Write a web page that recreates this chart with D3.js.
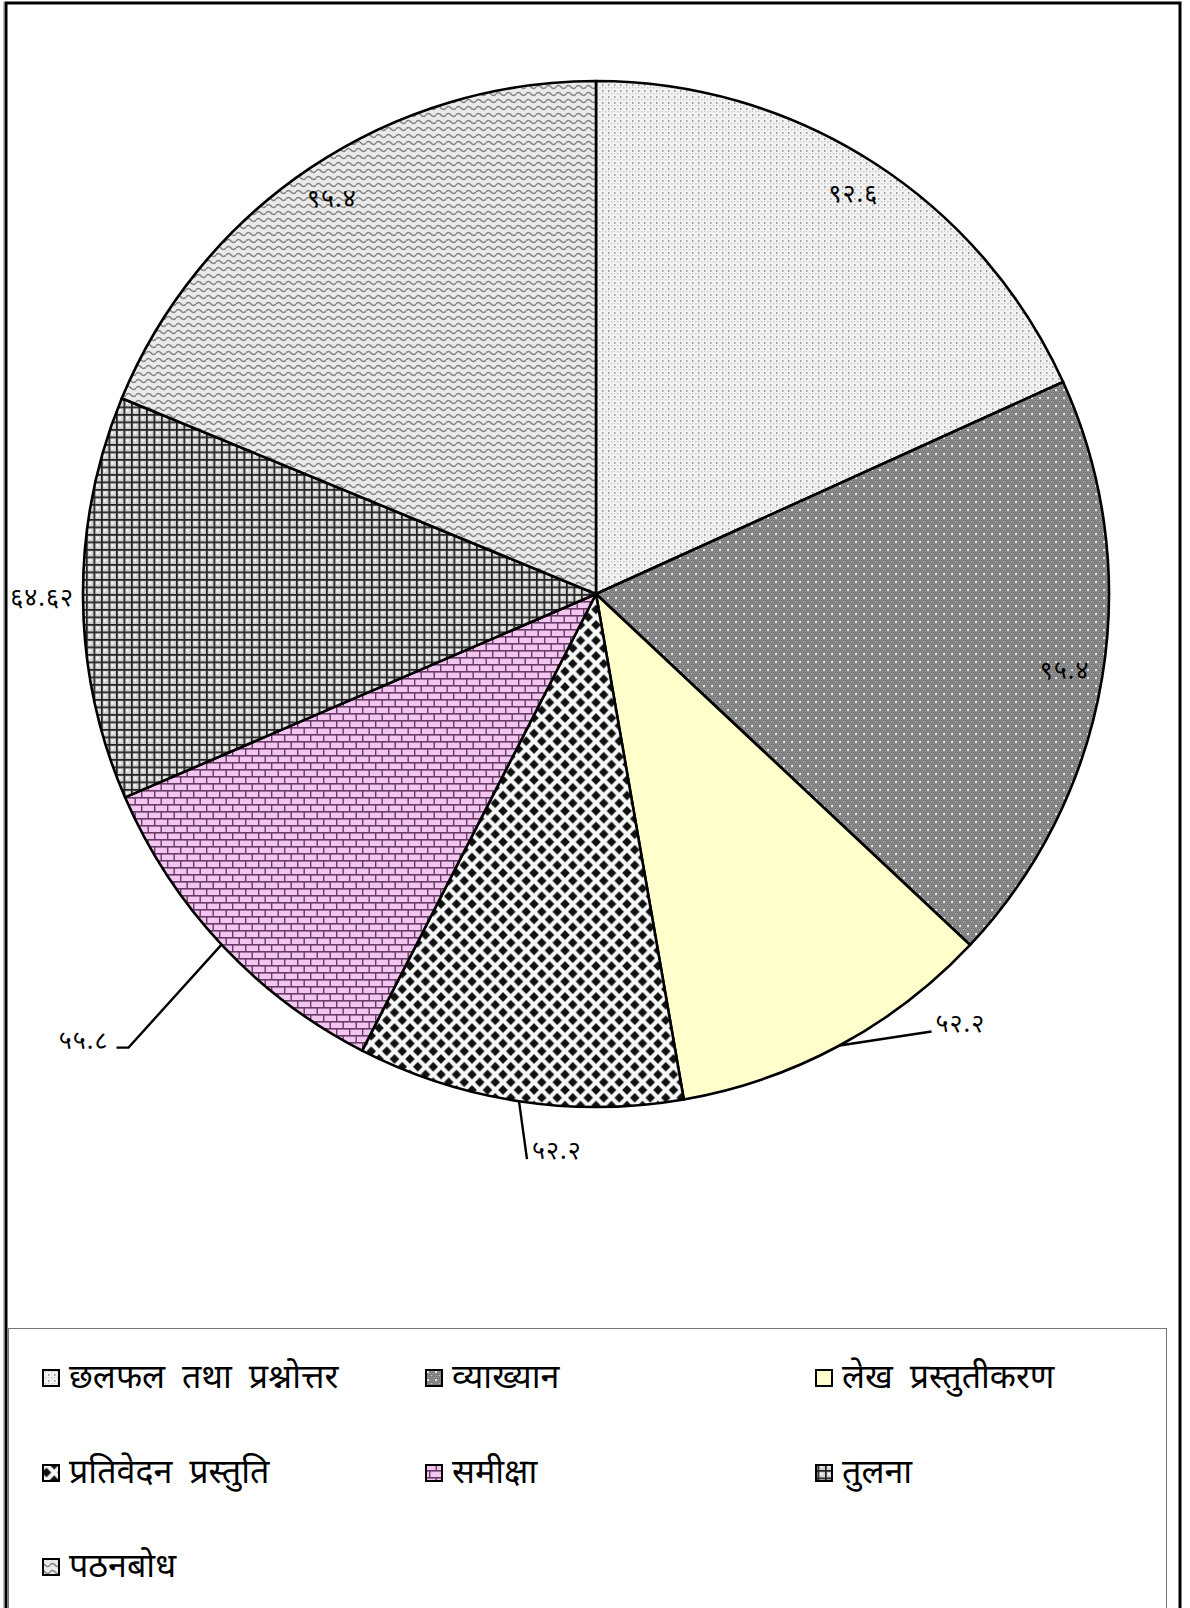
<!DOCTYPE html>
<html><head><meta charset="utf-8">
<script src="https://cdn.jsdelivr.net/npm/d3@7"></script>
<style>
html,body{margin:0;padding:0;background:#fff;}
svg{display:block;}
text{font-family:"Noto Sans Devanagari","Lohit Devanagari","Mangal","Noto Sans","FreeSans",sans-serif;}
</style></head>
<body>
<script>
// ---- data ----
const categories = ["छलफल तथा प्रश्नोत्तर","व्याख्यान","लेख प्रस्तुतीकरण","प्रतिवेदन प्रस्तुति","समीक्षा","तुलना","पठनबोध"];
const values = [92.6, 95.4, 52.2, 52.2, 55.8, 64.62, 95.4];
const valueLabels = ["९२.६","९५.४","५२.२","५२.२","५५.८","६४.६२","९५.४"];

// ---- layout / style ----
const W = 1190, H = 1608;
const cx = 596, cy = 594, R = 513;
const patternIds = ["p0","p1","p2","p3","p4","p5","p6"];
const labelLayout = [
  {mode:"in", r:475},
  {mode:"in", r:475},
  {mode:"lead", pts:[[92,-14]], tx:96, ty:-21, anchor:"start"},
  {mode:"lead", pts:[[8,58]], tx:13, ty:50, anchor:"start"},
  {mode:"lead", pts:[[-93,103],[-105,103]], tx:-113, ty:97, anchor:"end"},
  {mode:"out", r:522},
  {mode:"in", r:475}
];

const svg = d3.select("body").append("svg").attr("width",W).attr("height",H);
const defs = svg.append("defs");

(function(){
  const p = defs.append("pattern").attr("id","p0").attr("patternUnits","userSpaceOnUse").attr("width",6).attr("height",6);
  p.append("rect").attr("width",6).attr("height",6).attr("fill","#f2f2f2");
  p.append("rect").attr("x",0).attr("y",0).attr("width",1.5).attr("height",2).attr("fill","#a0a0a0");
  p.append("rect").attr("x",3).attr("y",3).attr("width",1.5).attr("height",1.5).attr("fill","#c8c8c8");
  p.append("rect").attr("x",0).attr("y",3).attr("width",1).attr("height",1).attr("fill","#c4c4c4");
})();
(function(){
  const p = defs.append("pattern").attr("id","p1").attr("patternUnits","userSpaceOnUse").attr("width",8).attr("height",8);
  p.append("rect").attr("width",8).attr("height",8).attr("fill","#8c8c8c");
  for(let i=0;i<8;i+=2) for(let j=0;j<8;j+=2){
    p.append("rect").attr("x",i+((j/2)%2)).attr("y",j).attr("width",1).attr("height",1).attr("fill","#707070");
  }
  p.append("rect").attr("x",3).attr("y",3).attr("width",2).attr("height",2).attr("fill","#e6e6e6");
  p.append("rect").attr("x",7).attr("y",7).attr("width",1).attr("height",1).attr("fill","#c4c4c4");
})();
(function(){
  const p = defs.append("pattern").attr("id","p2").attr("patternUnits","userSpaceOnUse").attr("width",4).attr("height",4);
  p.append("rect").attr("width",4).attr("height",4).attr("fill","#ffffcc");
})();
(function(){
  const s = 15.5;
  const p = defs.append("pattern").attr("id","p3").attr("patternUnits","userSpaceOnUse").attr("width",s).attr("height",s);
  p.append("rect").attr("width",s).attr("height",s).attr("fill","#f8f8f8");
  const d = 4.8;
  const dia = (x,y)=>`M${x},${y-d}L${x+d},${y}L${x},${y+d}L${x-d},${y}Z`;
  p.append("path").attr("d", dia(s/2,s/2)+dia(0,0)+dia(s,0)+dia(0,s)+dia(s,s)).attr("fill","#111");
})();
(function(){
  const w = 13, h = 14;
  const p = defs.append("pattern").attr("id","p4").attr("patternUnits","userSpaceOnUse").attr("width",w).attr("height",h);
  p.append("rect").attr("width",w).attr("height",h).attr("fill","#f3c6f0");
  p.append("rect").attr("x",0).attr("y",0).attr("width",w).attr("height",1.6).attr("fill","#6a3a68");
  p.append("rect").attr("x",0).attr("y",7).attr("width",w).attr("height",1.6).attr("fill","#6a3a68");
  p.append("rect").attr("x",0).attr("y",0).attr("width",1.4).attr("height",7).attr("fill","#6a3a68");
  p.append("rect").attr("x",6.5).attr("y",7).attr("width",1.4).attr("height",7).attr("fill","#6a3a68");
})();
(function(){
  const s = 7.5;
  const p = defs.append("pattern").attr("id","p5").attr("patternUnits","userSpaceOnUse").attr("width",s).attr("height",s);
  p.append("rect").attr("width",s).attr("height",s).attr("fill","#cfcfcf");
  p.append("rect").attr("x",2.8).attr("y",2.8).attr("width",2.4).attr("height",2.4).attr("fill","#fafafa");
  p.append("rect").attr("x",0).attr("y",0).attr("width",s).attr("height",1.7).attr("fill","#222");
  p.append("rect").attr("x",0).attr("y",0).attr("width",1.7).attr("height",s).attr("fill","#222");
})();
(function(){
  const w = 10, h = 7;
  const p = defs.append("pattern").attr("id","p6").attr("patternUnits","userSpaceOnUse").attr("width",w).attr("height",h);
  p.append("rect").attr("width",w).attr("height",h).attr("fill","#eaeaea");
  p.append("path").attr("d","M0,4 Q2.5,1 5,4 T10,4").attr("fill","none").attr("stroke","#858585").attr("stroke-width",1.7);
})();

// ---- outer frame ----
svg.append("line").attr("x1",3.5).attr("y1",2).attr("x2",3.5).attr("y2",H).attr("stroke","#bbb").attr("stroke-width",1);
svg.append("path").attr("d",`M6,${H} V3 H1180 V${H}`).attr("fill","none").attr("stroke","#000").attr("stroke-width",3);

// ---- pie ----
const pie = d3.pie().sort(null).value(d=>d.v).startAngle(0).endAngle(2*Math.PI);
const data = categories.map((c,i)=>({c, v:values[i], lab:valueLabels[i], pat:patternIds[i], lay:labelLayout[i]}));
const arcs = pie(data);
const arc = d3.arc().innerRadius(0).outerRadius(R);
const g = svg.append("g").attr("transform",`translate(${cx},${cy})`);
g.selectAll("path.slice").data(arcs).join("path").attr("class","slice")
  .attr("d",arc).attr("fill",d=>`url(#${d.data.pat})`)
  .attr("stroke","#000").attr("stroke-width",2.6).attr("stroke-linejoin","round");

const LFS = 25;
const polar = (a,r)=>[r*Math.sin(a), -r*Math.cos(a)];
arcs.forEach(d=>{
  const mid = (d.startAngle+d.endAngle)/2;
  const L = d.data.lay;
  if(L.mode==="in"){
    const [x,y] = polar(mid,L.r);
    g.append("text").attr("x",x).attr("y",y).attr("text-anchor","middle").attr("dy","0.3em")
      .attr("font-size",LFS).attr("letter-spacing",1).attr("fill","#000").text(d.data.lab);
  } else if(L.mode==="out"){
    const [x,y] = polar(mid,L.r);
    g.append("text").attr("x",x).attr("y",y).attr("text-anchor","end").attr("dy","0.3em")
      .attr("font-size",LFS).attr("letter-spacing",1).attr("fill","#000").text(d.data.lab);
  } else {
    const [x0,y0] = polar(mid,R);
    const pts = [[x0,y0]].concat(L.pts.map(p=>[x0+p[0],y0+p[1]]));
    g.append("path").attr("d",d3.line()(pts)).attr("fill","none").attr("stroke","#000").attr("stroke-width",2.4);
    g.append("text").attr("x",x0+L.tx).attr("y",y0+L.ty).attr("text-anchor",L.anchor).attr("dy","0.3em")
      .attr("font-size",LFS).attr("letter-spacing",1).attr("fill","#000").text(d.data.lab);
  }
});

// ---- legend ----
svg.append("rect").attr("x",8.5).attr("y",1328.5).attr("width",1158).attr("height",300)
  .attr("fill","none").attr("stroke","#777").attr("stroke-width",1);
const colX = [43, 426, 816];
const rowY = [1378, 1473, 1567];
const lg = svg.append("g");
data.forEach((d,i)=>{
  const x = colX[i%3], y = rowY[Math.floor(i/3)];
  lg.append("rect").attr("x",x).attr("y",y-8).attr("width",16).attr("height",16)
    .attr("fill",`url(#${d.pat})`).attr("stroke","#000").attr("stroke-width",2);
  lg.append("text").attr("x",x+26).attr("y",y).attr("dy","0.3em").attr("font-size",34)
    .attr("word-spacing",8).attr("fill","#000").text(d.c);
});
</script>
</body></html>
